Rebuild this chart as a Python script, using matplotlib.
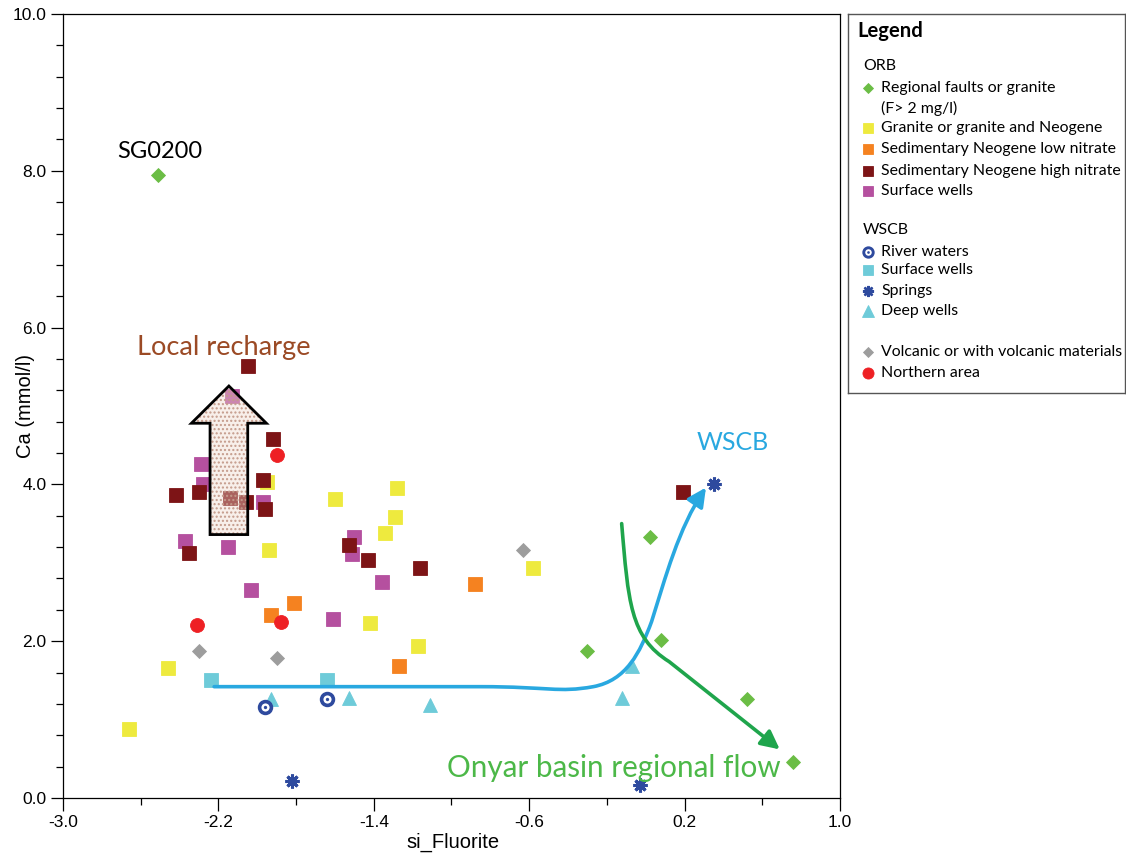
import matplotlib
matplotlib.use("Agg")
import matplotlib.pyplot as plt
import numpy as np
from matplotlib import font_manager
from matplotlib.patches import Polygon, FancyArrowPatch
from matplotlib.path import Path
from matplotlib.ticker import FixedLocator, FormatStrFormatter

# ── sample groups: saturation index of fluorite vs Ca (mmol/l) ───────────────
# ORB
fault_si = [-2.51, -0.30, 0.02, 0.08, 0.52, 0.76]
fault_ca = [7.95, 1.88, 3.33, 2.02, 1.26, 0.46]

granite_si = [-1.95, -1.60, -1.94, -1.42, -2.46, -1.17, -2.66, -1.28, -1.29, -1.34, -0.58]
granite_ca = [4.03, 3.81, 3.16, 2.23, 1.66, 1.94, 0.88, 3.95, 3.58, 3.38, 2.93]

neo_low_si = [-1.81, -1.93, -1.27, -0.88]
neo_low_ca = [2.49, 2.33, 1.68, 2.73]

neo_high_si = [-2.05, -1.92, -1.97, -2.42, -2.30, -2.14, -2.06, -1.96, -2.35, -1.53, -1.43, -1.16, 0.19]
neo_high_ca = [5.51, 4.58, 4.06, 3.86, 3.90, 3.83, 3.78, 3.69, 3.12, 3.23, 3.04, 2.93, 3.90]

orb_surf_si = [-2.13, -2.29, -2.28, -1.97, -2.37, -2.15, -2.03, -1.61, -1.50, -1.51, -1.36]
orb_surf_ca = [5.13, 4.26, 4.01, 3.78, 3.28, 3.20, 2.65, 2.28, 3.33, 3.11, 2.76]

# WSCB
river_si = [-1.96, -1.64]
river_ca = [1.16, 1.26]

wscb_surf_si = [-2.24, -1.64]
wscb_surf_ca = [1.51, 1.50]

spring_si = [-1.82, 0.35, -0.03]
spring_ca = [0.22, 4.01, 0.16]

deep_si = [-1.93, -1.53, -1.11, -0.07, -0.12]
deep_ca = [1.26, 1.28, 1.18, 1.69, 1.28]

# others
volc_si = [-2.30, -1.90, -0.63]
volc_ca = [1.88, 1.78, 3.16]

north_si = [-1.90, -1.88, -2.31]
north_ca = [4.37, 2.25, 2.21]

# ── colours / marker styles ─────────────────────────────────────────────────
NAVY = "#2e4a9e"
STYLE = {
    "fault":     dict(marker="D", ms=6.8, color="#6bbd45"),
    "granite":   dict(marker="s", ms=9.5, color="#eeea3e"),
    "neo_low":   dict(marker="s", ms=9.5, color="#f58220"),
    "neo_high":  dict(marker="s", ms=9.5, color="#7d1416"),
    "orb_surf":  dict(marker="s", ms=9.5, color="#b5509f"),
    "wscb_surf": dict(marker="s", ms=9.5, color="#6ecbd9"),
    "deep":      dict(marker="^", ms=10.5, color="#6ecbd9"),
    "volc":      dict(marker="D", ms=6.8, color="#9d9d9d"),
    "north":     dict(marker="o", ms=10, color="#ee2024"),
}

FONT = "Lato"
plt.rcParams["font.family"] = ["Lato", "DejaVu Sans"]

# axis titles use a condensed sans if one is around
_installed = {f.name for f in font_manager.fontManager.ttflist}
if "Liberation Sans Narrow" in _installed:
    LABEL_FONT, LABEL_SIZE = "Liberation Sans Narrow", 17
else:
    LABEL_FONT, LABEL_SIZE = "Liberation Sans", 14.5

W, H = 1126, 859
fig = plt.figure(figsize=(W / 100, H / 100), dpi=100)
ax = fig.add_axes([63 / W, 1 - 798 / H, 777 / W, 784 / H])


def put(ax, xs, ys, key, scale=1.0, **kw):
    st = STYLE[key]
    ax.plot(xs, ys, ls="none", marker=st["marker"], ms=st["ms"] * scale,
            mfc=st["color"], mec=st["color"], mew=0.6, **kw)


def put_river(ax, xs, ys, scale=1.0, **kw):
    ax.plot(xs, ys, ls="none", marker="o", ms=8.5 * scale, mfc="white",
            mec=NAVY, mew=2.6 * scale, **kw)
    ax.plot(xs, ys, ls="none", marker="o", ms=2.4 * scale, mfc=NAVY,
            mec=NAVY, mew=0, **kw)


def put_spring(ax, xs, ys, scale=1.0, **kw):
    ax.plot(xs, ys, ls="none", marker=(8, 2, 0), ms=10 * scale,
            mec=NAVY, mew=2.2 * scale, **kw)


put(ax, granite_si, granite_ca, "granite")
put(ax, neo_low_si, neo_low_ca, "neo_low")
put(ax, orb_surf_si, orb_surf_ca, "orb_surf")
put(ax, neo_high_si, neo_high_ca, "neo_high")
put(ax, wscb_surf_si, wscb_surf_ca, "wscb_surf")
put(ax, deep_si, deep_ca, "deep")
put(ax, volc_si, volc_ca, "volc")
put(ax, north_si, north_ca, "north")
put(ax, fault_si, fault_ca, "fault")
put_river(ax, river_si, river_ca)
put_spring(ax, spring_si, spring_ca)

# ── "Local recharge" block arrow ────────────────────────────────────────────
cx, half_shaft, half_head = -2.146, 0.097, 0.193
y_base, y_neck, y_tip = 3.36, 4.78, 5.255
arrow_xy = [(cx - half_shaft, y_base), (cx + half_shaft, y_base),
            (cx + half_shaft, y_neck), (cx + half_head, y_neck),
            (cx, y_tip), (cx - half_head, y_neck), (cx - half_shaft, y_neck)]
ax.add_patch(Polygon(arrow_xy, closed=True, facecolor="#efd8cc", alpha=0.4,
                     edgecolor="none", zorder=4))
ax.add_patch(Polygon(arrow_xy, closed=True, facecolor="none", hatch="....",
                     edgecolor="#c49a8a", linewidth=0, zorder=4))
ax.add_patch(Polygon(arrow_xy, closed=True, facecolor="none",
                     edgecolor="black", linewidth=2, zorder=5))

# ── flow paths ──────────────────────────────────────────────────────────────
M, L, C = Path.MOVETO, Path.LINETO, Path.CURVE4
wscb_path = Path(
    [(-2.222, 1.42), (-0.85, 1.42),
     (-0.50, 1.42), (-0.45, 1.34), (-0.27, 1.42),
     (-0.10, 1.50), (-0.03, 1.85), (0.03, 2.25),
     (0.10, 2.80), (0.17, 3.45), (0.31, 3.96)],
    [M, L, C, C, C, C, C, C, C, C, C])
ax.add_patch(FancyArrowPatch(path=wscb_path,
                             arrowstyle="-|>,head_length=0.7,head_width=0.35",
                             mutation_scale=16, color="#29a8e0", lw=2.6,
                             zorder=3))

onyar_path = Path(
    [(-0.124, 3.50),
     (-0.09, 2.50), (-0.08, 2.05), (0.12, 1.74),
     (0.69, 0.62)],
    [M, C, C, C, L])
ax.add_patch(FancyArrowPatch(path=onyar_path,
                             arrowstyle="-|>,head_length=0.7,head_width=0.35",
                             mutation_scale=16, color="#1fa54c", lw=2.6,
                             zorder=3))

# ── annotations ─────────────────────────────────────────────────────────────
ax.text(-2.17, 5.75, "Local recharge", color="#9b4a25", fontsize=19.6,
        ha="center", va="center", family=FONT)
ax.text(-2.50, 8.24, "SG0200", color="black", fontsize=17,
        ha="center", va="center", family=FONT)
ax.text(0.45, 4.54, "WSCB", color="#29a8e0", fontsize=18,
        ha="center", va="center", family=FONT)
ax.text(-0.166, 0.38, "Onyar basin regional flow", color="#4cb848",
        fontsize=21.3, ha="center", va="center", family=FONT)

# ── axes ────────────────────────────────────────────────────────────────────
ax.set_xlim(-3.0, 1.0)
ax.set_ylim(0.0, 10.0)
ax.xaxis.set_major_locator(FixedLocator(np.arange(-3.0, 1.01, 0.8)))
ax.xaxis.set_minor_locator(FixedLocator(np.arange(-3.0, 1.01, 0.4)))
ax.yaxis.set_major_locator(FixedLocator(np.arange(0, 10.01, 2.0)))
ax.yaxis.set_minor_locator(FixedLocator(np.arange(0, 10.01, 0.4)))
ax.xaxis.set_major_formatter(FormatStrFormatter("%.1f"))
ax.yaxis.set_major_formatter(FormatStrFormatter("%.1f"))
ax.tick_params(which="major", direction="out", length=9, width=0.9,
               labelsize=12.5, labelfontfamily="Liberation Sans", pad=3)
ax.tick_params(which="minor", direction="out", length=5, width=0.9)
for sp in ax.spines.values():
    sp.set_linewidth(0.9)
ax.set_xlabel("si_Fluorite", fontsize=LABEL_SIZE, family=LABEL_FONT)
ax.set_ylabel("Ca (mmol/l)", fontsize=LABEL_SIZE, family=LABEL_FONT)
ax.xaxis.set_label_coords(0.502, -0.044)
ax.yaxis.set_label_coords(-0.036, 0.50)

# ── legend panel (pixel coordinates) ────────────────────────────────────────
lax = fig.add_axes([848 / W, 1 - 393 / H, 277 / W, 379 / H])
lax.set_xlim(848, 1125)
lax.set_ylim(393, 14)
lax.set_xticks([])
lax.set_yticks([])
for sp in lax.spines.values():
    sp.set_color("#555555")
    sp.set_linewidth(1.0)

lax.text(857, 31, "Legend", fontsize=14.6, weight="bold", va="center",
         family=FONT)

# (row y, marker key or None, label, text x)
legend_rows = [
    (66, None, "ORB", 863),
    (88, "fault", "Regional faults or granite", 881),
    (108, None, "(F> 2 mg/l)", 881),
    (128, "granite", "Granite or granite and Neogene", 881),
    (149, "neo_low", "Sedimentary Neogene low nitrate", 881),
    (171, "neo_high", "Sedimentary Neogene high nitrate", 881),
    (191, "orb_surf", "Surface wells", 881),
    (230, None, "WSCB", 863),
    (252, "river", "River waters", 881),
    (270, "wscb_surf", "Surface wells", 881),
    (291, "spring", "Springs", 881),
    (311, "deep", "Deep wells", 881),
    (352, "volc", "Volcanic or with volcanic materials", 881),
    (373, "north", "Northern area", 881),
]
for y, key, label, x_txt in legend_rows:
    if key == "river":
        put_river(lax, [868], [y], scale=0.8)
    elif key == "spring":
        put_spring(lax, [868], [y], scale=0.8)
    elif key is not None:
        put(lax, [868], [y], key, scale=0.8)
    lax.text(x_txt, y, label, fontsize=11.4, va="center", family=FONT)

fig.savefig("out.png", dpi=100)
